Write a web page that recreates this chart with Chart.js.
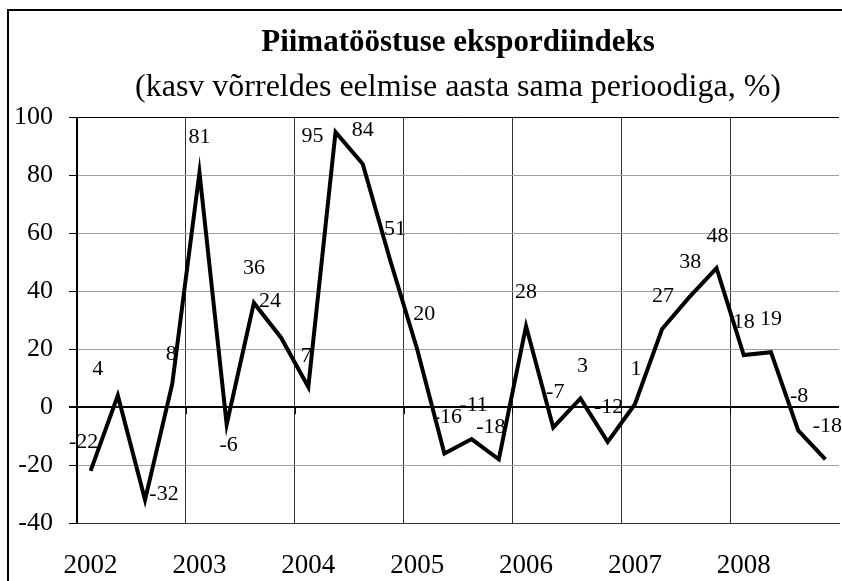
<!DOCTYPE html>
<html>
<head>
<meta charset="utf-8">
<script src="https://cdn.jsdelivr.net/npm/chart.js@4/dist/chart.umd.min.js"></script>
<style>
  html, body { margin: 0; padding: 0; background: #fff; }
  #c { display: block; }
</style>
</head>
<body>
<canvas id="c" width="842" height="581"></canvas>
<script>
// ---- Data ----
const years = ['2002', '2003', '2004', '2005', '2006', '2007', '2008'];
const quarters = ['I', 'II', 'III', 'IV'];
const exportIndex = [
  -22, 4, -32, 8,
  81, -6, 36, 24,
  7, 95, 84, 51,
  20, -16, -11, -18,
  28, -7, 3, -12,
  1, 27, 38, 48,
  18, 19, -8, -18
];
const yTicks = [-40, -20, 0, 20, 40, 60, 80, 100];

const titleText = 'Piimatööstuse ekspordiindeks';
const subtitleText = '(kasv võrreldes eelmise aasta sama perioodiga, %)';

// ---- Label placement (styling: offsets of value labels relative to points) ----
const labelOffsets = [
  [-7, -29], [-20, -26], [19, -6], [-1, -30],
  [0, -35], [2, 21], [0, -35], [-11, -36],
  [-2, -31], [-23, 4], [0, -34], [5, -30],
  [7, -35], [3, -36], [2, -34], [-8, -32],
  [0, -34], [2, -35], [2, -32], [1, -35],
  [1, -35], [1, -33], [1, -35], [1, -32],
  [0, -33], [0, -33], [1, -34], [2, -33]
];

const labels = [];
years.forEach(y => quarters.forEach(q => labels.push(y + ' ' + q)));

const SERIF = '"Liberation Serif", "Times New Roman", serif';

const framePlugin = {
  id: 'frame',
  beforeDraw(chart) {
    const ctx = chart.ctx;
    ctx.save();
    ctx.fillStyle = '#fff';
    ctx.fillRect(0, 0, chart.width, chart.height);
    ctx.strokeStyle = '#000';
    ctx.lineWidth = 2;
    ctx.beginPath();
    ctx.moveTo(8, chart.height + 5);
    ctx.lineTo(8, 10);
    ctx.lineTo(chart.width + 5, 10);
    ctx.stroke();
    ctx.restore();
  }
};

const valueLabelPlugin = {
  id: 'valueLabels',
  afterDatasetsDraw(chart) {
    const ctx = chart.ctx;
    const meta = chart.getDatasetMeta(0);
    ctx.save();
    ctx.font = '22px ' + SERIF;
    ctx.fillStyle = '#000';
    ctx.textAlign = 'center';
    ctx.textBaseline = 'middle';
    meta.data.forEach((pt, i) => {
      const off = labelOffsets[i] || [0, -33];
      ctx.fillText(String(exportIndex[i]), pt.x + off[0], pt.y + off[1]);
    });
    ctx.restore();
  }
};

const zeroTickPlugin = {
  id: 'zeroTicks',
  afterDatasetsDraw(chart) {
    const xs = chart.scales.x, ys = chart.scales.y;
    const ctx = chart.ctx;
    const y0 = ys.getPixelForValue(0);
    ctx.save();
    ctx.strokeStyle = '#000';
    ctx.lineWidth = 1;
    for (let i = 4; i < labels.length; i += 4) {
      const x = Math.round((xs.getPixelForValue(i - 1) + xs.getPixelForValue(i)) / 2) + 0.5;
      ctx.beginPath();
      ctx.moveTo(x, y0);
      ctx.lineTo(x, y0 + 7);
      ctx.stroke();
    }
    ctx.restore();
  }
};

new Chart(document.getElementById('c'), {
  type: 'line',
  data: {
    labels: labels,
    datasets: [{
      data: exportIndex,
      borderColor: '#000',
      borderWidth: 4,
      pointRadius: 0,
      tension: 0,
      fill: false,
      borderJoinStyle: 'miter'
    }]
  },
  plugins: [framePlugin, valueLabelPlugin, zeroTickPlugin],
  options: {
    responsive: false,
    animation: false,
    events: [],
    layout: { padding: { left: 8, top: 10, right: 3, bottom: 0 } },
    plugins: {
      legend: { display: false },
      tooltip: { enabled: false },
      title: {
        display: true,
        text: titleText,
        fullSize: false,
        color: '#000',
        font: { family: SERIF, size: 31, weight: 'bold' },
        padding: { top: 14, bottom: 3 }
      },
      subtitle: {
        display: true,
        text: subtitleText,
        fullSize: false,
        color: '#000',
        font: { family: SERIF, size: 32, weight: 'normal' },
        padding: { top: 4, bottom: 11 }
      }
    },
    scales: {
      x: {
        type: 'category',
        offset: true,
        border: { display: true, color: '#333', width: 1 },
        grid: {
          offset: true,
          drawTicks: false,
          color: ctx => (ctx.index % 4 === 0 ? '#333' : 'rgba(0,0,0,0)'),
          lineWidth: 1
        },
        ticks: {
          autoSkip: false,
          maxRotation: 0,
          minRotation: 0,
          color: '#000',
          padding: 27,
          font: { family: SERIF, size: 27 },
          callback: function (val, idx) {
            return idx % 4 === 0 ? years[idx / 4] : '';
          }
        },
        afterFit: s => { s.height = 58; s.paddingLeft = 0; s.paddingRight = 0; }
      },
      y: {
        min: -40,
        max: 100,
        border: { display: true, color: '#000', width: 2 },
        grid: {
          color: ctx => {
            const v = ctx.tick && ctx.tick.value;
            if (v === 0 || v === 100) return '#000';
            return '#a0a0a0';
          },
          lineWidth: ctx => (ctx.tick && ctx.tick.value === 0 ? 2 : 1),
          tickLength: 8,
          tickColor: '#000'
        },
        afterBuildTicks: s => { s.ticks = yTicks.map(v => ({ value: v })); },
        ticks: {
          color: '#000',
          padding: 16,
          font: { family: SERIF, size: 26 }
        },
        afterFit: s => { s.width = 69; }
      }
    }
  }
});
</script>
</body>
</html>
